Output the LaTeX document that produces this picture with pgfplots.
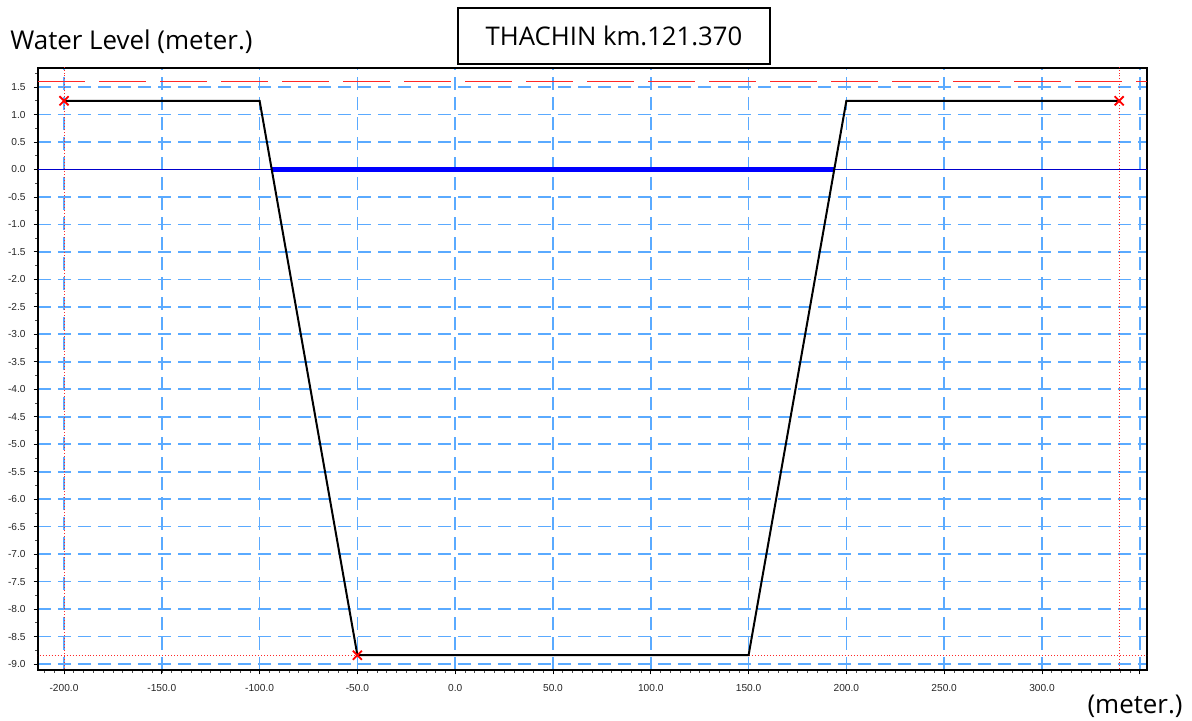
\documentclass[border=0pt]{standalone}
\usepackage{pgfplots}
\pgfplotsset{compat=1.18}
\usepackage{fontspec}
\setmainfont{Open Sans}
\newfontfamily\arial{Liberation Sans}
\definecolor{gridblue}{RGB}{90,170,255}
\definecolor{zeroblue}{RGB}{0,0,205}
\definecolor{rline}{RGB}{255,40,40}
\begin{document}
\begin{tikzpicture}
\path[use as bounding box] (-19bp,-25.5bp) rectangle (577bp,335bp);
\begin{axis}[at={(0,0)}, anchor=south west, scale only axis,
  width=554.5bp, height=301bp,
  xmin=-213.3, xmax=353.7, ymin=-9.109, ymax=1.847,
  xtick={-200,-150,-100,-50,0,50,100,150,200,250,300,350},
  xticklabels={-200.0,-150.0,-100.0,-50.0,0.0,50.0,100.0,150.0,200.0,250.0,300.0,{}},
  minor xtick={-210,-205,...,350},
  ytick={-9,-8.5,-8,-7.5,-7,-6.5,-6,-5.5,-5,-4.5,-4,-3.5,-3,-2.5,-2,-1.5,-1,-0.5,0,0.5,1,1.5},
  yticklabels={-9.0,-8.5,-8.0,-7.5,-7.0,-6.5,-6.0,-5.5,-5.0,-4.5,-4.0,-3.5,-3.0,-2.5,-2.0,-1.5,-1.0,-0.5,0.0,0.5,1.0,1.5},
  minor ytick={-8.75,-8.25,...,1.76},
  xtick pos=bottom, ytick pos=left,
  tick align=outside, major tick length=2.2bp, minor tick length=1.3bp,
  tick style={black, line width=0.4bp},
  minor tick style={black!70, line width=0.3bp},
  grid=major,
  major grid style={gridblue, dash pattern=on 6.5bp off 3.5bp, line width=0.85bp},
  axis line style={black, line width=0.8bp},
  ticklabel style={font=\arial\fontsize{5.1}{6}\selectfont, text=black!85},
  xticklabel style={yshift=-1.5bp},
  yticklabel style={xshift=-0.5bp},
]
\addplot[rline, densely dotted, line width=0.5bp] coordinates {(-200,-9.2) (-200,1.9)};
\addplot[rline, densely dotted, line width=0.5bp] coordinates {(339.5,-9.2) (339.5,1.9)};
\addplot[rline, densely dotted, line width=0.5bp] coordinates {(-214,-8.84) (354,-8.84)};
\addplot[rline, dash pattern=on 23.3bp off 7.2bp, line width=0.8bp] coordinates {(-213.3,1.6) (353.7,1.6)};
\addplot[zeroblue, line width=0.5bp] coordinates {(-213.3,0) (353.7,0)};
\addplot[blue, line width=2.2bp] coordinates {(-93.8,0) (193.8,0)};
\addplot[black, line width=1bp] coordinates {(-200,1.25) (-100,1.25) (-50,-8.84) (150,-8.84) (200,1.25) (339.5,1.25)};
\addplot[red, only marks, mark=x, mark size=3.2bp, mark options={line width=0.9bp}] coordinates {(-200,1.25) (-50,-8.84) (339.5,1.25)};
\end{axis}
\node[anchor=base west, inner sep=0, font=\fontsize{13}{15}\selectfont] at (-14bp,310bp) {Water Level (meter.)};
\node[draw, line width=0.8bp, minimum width=156bp, minimum height=28bp, inner sep=0, font=\fontsize{12.9}{15}\selectfont] at (288bp,317bp) {THACHIN km.121.370};
\node[anchor=base east, inner sep=0, font=\fontsize{13}{15}\selectfont] at (572.5bp,-21.5bp) {(meter.)};
\end{tikzpicture}
\end{document}
